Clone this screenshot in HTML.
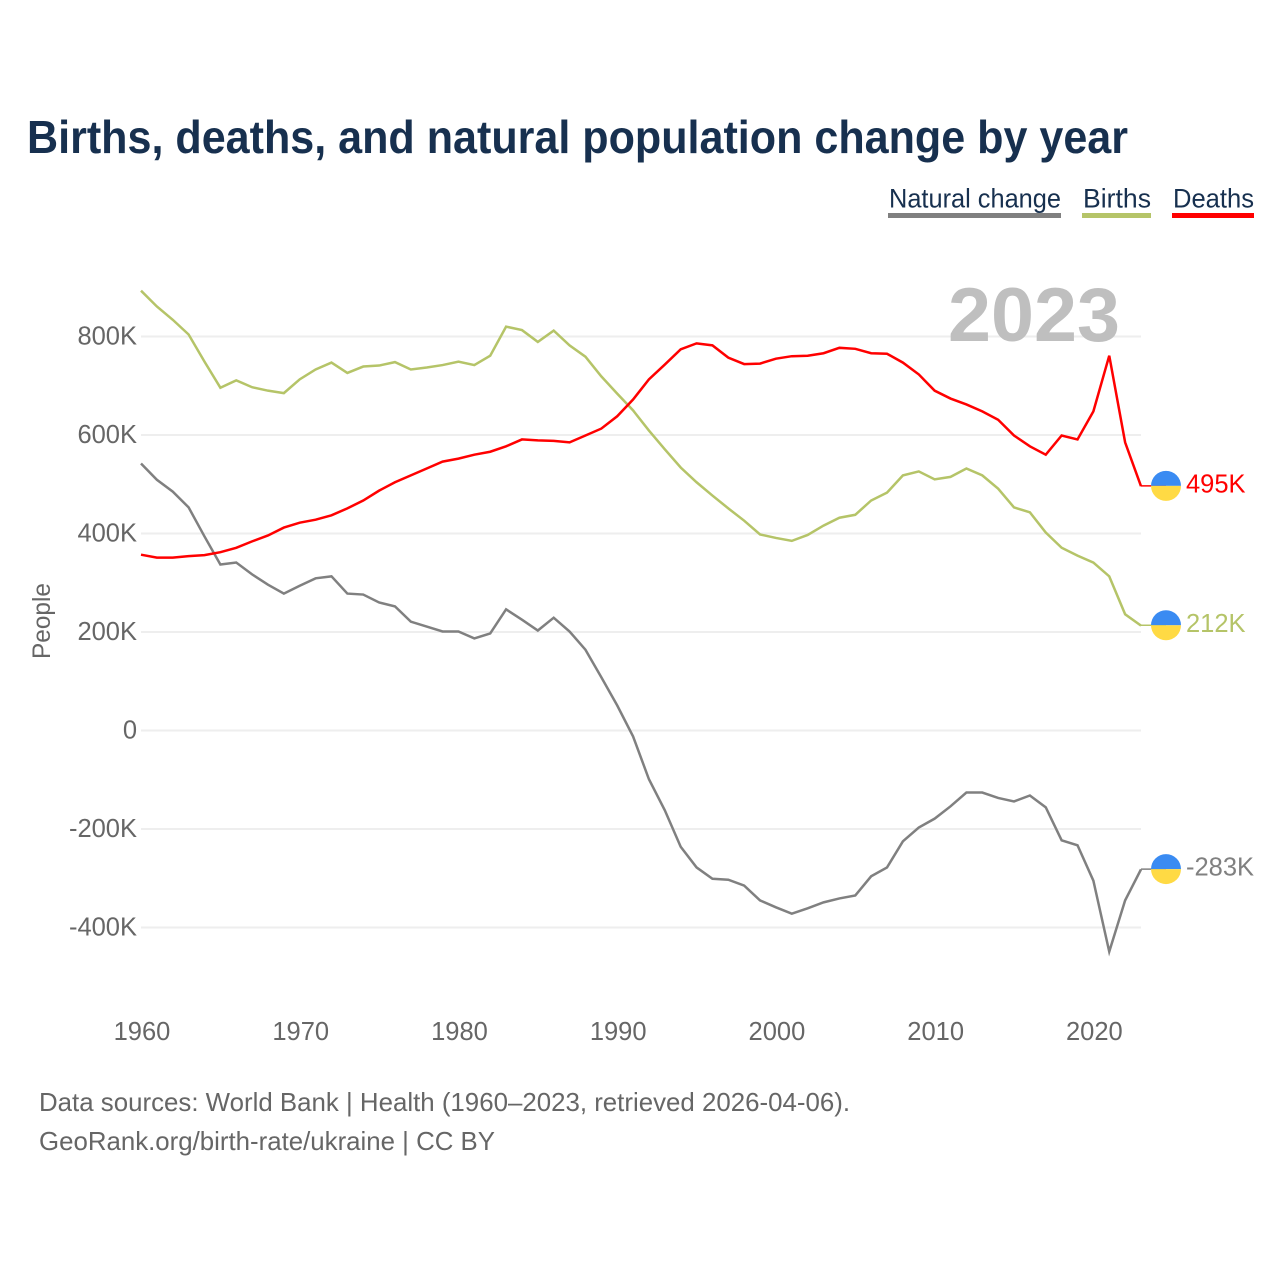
<!DOCTYPE html>
<html lang="en">
<head>
<meta charset="utf-8">
<title>Births, deaths, and natural population change by year</title>
<style>
html,body{margin:0;padding:0;background:#fff;}
svg{display:block;font-family:"Liberation Sans",sans-serif;}
</style>
</head>
<body>
<svg id="chart" width="1280" height="1280" viewBox="0 0 1280 1280" xmlns="http://www.w3.org/2000/svg">
<text x="27" y="153" font-size="46" font-weight="700" fill="#17304f" textLength="1101" lengthAdjust="spacingAndGlyphs">Births, deaths, and natural population change by year</text>
<g>
<g>
<text x="889" y="207.5" font-size="26.5" fill="#17304f" textLength="172" lengthAdjust="spacingAndGlyphs">Natural change</text>
<rect x="888" y="213" width="173" height="5" fill="#808080"/>
</g>
<g>
<text x="1083" y="207.5" font-size="26.5" fill="#17304f" textLength="68" lengthAdjust="spacingAndGlyphs">Births</text>
<rect x="1082" y="213" width="69" height="5" fill="#b5c468"/>
</g>
<g>
<text x="1173" y="207.5" font-size="26.5" fill="#17304f" textLength="81" lengthAdjust="spacingAndGlyphs">Deaths</text>
<rect x="1172" y="213" width="82" height="5" fill="#ff0000"/>
</g>
</g>
<g id="grid"></g>
<text x="948" y="341" font-size="76" font-weight="700" fill="#bfbfbf" textLength="172" lengthAdjust="spacingAndGlyphs">2023</text>
<g id="yticks"></g>
<g id="xticks"></g>
<text x="0" y="0" transform="translate(50 621) rotate(-90)" text-anchor="middle" font-size="25" fill="#666666" textLength="76" lengthAdjust="spacingAndGlyphs">People</text>
<g id="series"></g>
<g id="ends"></g>
<text x="39" y="1111" font-size="26" fill="#666666" textLength="811" lengthAdjust="spacingAndGlyphs">Data sources: World Bank | Health (1960–2023, retrieved 2026-04-06).</text>
<text x="39" y="1150" font-size="26" fill="#666666" textLength="456" lengthAdjust="spacingAndGlyphs">GeoRank.org/birth-rate/ukraine | CC BY</text>
</svg>
<script>
const startYear = 1960;
const xTickYears = [1960, 1970, 1980, 1990, 2000, 2010, 2020];
const yTickValues = [800, 600, 400, 200, 0, -200, -400];
const birthsValues = [892,860,833,803,748,695,710,696,689,684,712,732,746,725,738,740,747,732,736,741,748,741,760,819,812,788,811,781,758,718,683,649,608,570,533,503,476,450,425,397,390,384,396,415,431,437,466,482,517,525,509,514,531,517,490,452,442,401,370,354,340,312,235,212];
const deathsValues = [356,350,350,353,355,361,370,383,395,411,421,427,436,450,466,486,503,517,531,545,551,559,565,576,590,588,587,584,598,612,637,671,712,742,773,785,781,756,743,744,754,759,760,765,776,774,765,764,746,722,689,673,661,647,630,598,576,559,598,590,647,760,584,495];
const naturalValues = [541,508,484,452,393,336,340,316,295,277,293,308,312,277,275,259,251,220,210,200,200,186,196,245,224,202,228,200,163,107,50,-13,-100,-163,-237,-279,-302,-304,-316,-346,-360,-373,-362,-350,-342,-336,-297,-279,-226,-198,-180,-155,-127,-127,-138,-145,-133,-157,-224,-234,-306,-450,-346,-283];

const NS = 'http://www.w3.org/2000/svg';
const xScale = function (year) { return 141 + (year - 1960) * (1000 / 63); };
const yScale = function (v) { return 730.5 - v * 0.4925; };
const fmt = function (v) { return v === 0 ? '0' : v + 'K'; };
const make = function (tag, parent, props) {
  const el = document.createElementNS(NS, tag);
  Object.keys(props).forEach(function (k) { el.setAttribute(k, props[k]); });
  parent.appendChild(el);
  return el;
};

const gridG = document.getElementById('grid');
const yTickG = document.getElementById('yticks');
yTickValues.forEach(function (v) {
  const line = make('line', gridG, { x1: 141, x2: 1141, y1: yScale(v), y2: yScale(v), stroke: '#eeeeee', 'stroke-width': 2 });
  
  
  const label = make('text', yTickG, { x: 137, y: yScale(v) + 8.2, 'text-anchor': 'end', 'font-size': 25.5, fill: '#666666' });
  
  
  label.textContent = fmt(v);
});

const xTickG = document.getElementById('xticks');
xTickYears.forEach(function (y) {
  const label = make('text', xTickG, { x: xScale(y) + 1, y: 1040, 'text-anchor': 'middle', 'font-size': 25.5, fill: '#666666' });
  
  
  label.textContent = y;
});

const seriesG = document.getElementById('series');
const endsG = document.getElementById('ends');
const drawSeries = function (key, values, color) {
  const d = values.map(function (v, i) {
    return (i ? 'L' : 'M') + xScale(startYear + i).toFixed(2) + ' ' + (yScale(v) - 0.5).toFixed(2);
  }).join(' ');
  const path = make('path', seriesG, { d: d, fill: 'none', stroke: color, 'stroke-width': 2.5, 'stroke-linejoin': 'miter' });
  
  

  const last = values[values.length - 1];
  const lx = xScale(startYear + values.length - 1);
  const ly = yScale(last) - 0.8;
  const cx = lx + 25;
  const r = 15;
  const leader = make('line', endsG, { x1: lx, x2: cx, y1: ly, y2: ly, stroke: color, 'stroke-width': 1.5 });
  
  
  const top = make('path', endsG, { d: 'M' + (cx - r) + ' ' + ly + ' A' + r + ' ' + r + ' 0 0 1 ' + (cx + r) + ' ' + ly + ' Z', fill: '#3a8bf2' });
  
  
  const bottom = make('path', endsG, { d: 'M' + (cx - r) + ' ' + ly + ' A' + r + ' ' + r + ' 0 0 0 ' + (cx + r) + ' ' + ly + ' Z', fill: '#ffda44' });
  
  
  const label = make('text', endsG, { x: cx + r + 5, y: ly + 6.5, 'font-size': 25.5, fill: color });
  
  
  label.textContent = last + 'K';
};
drawSeries('natural-change', naturalValues, '#808080');
drawSeries('births', birthsValues, '#b5c468');
drawSeries('deaths', deathsValues, '#ff0000');
</script>
</body>
</html>
